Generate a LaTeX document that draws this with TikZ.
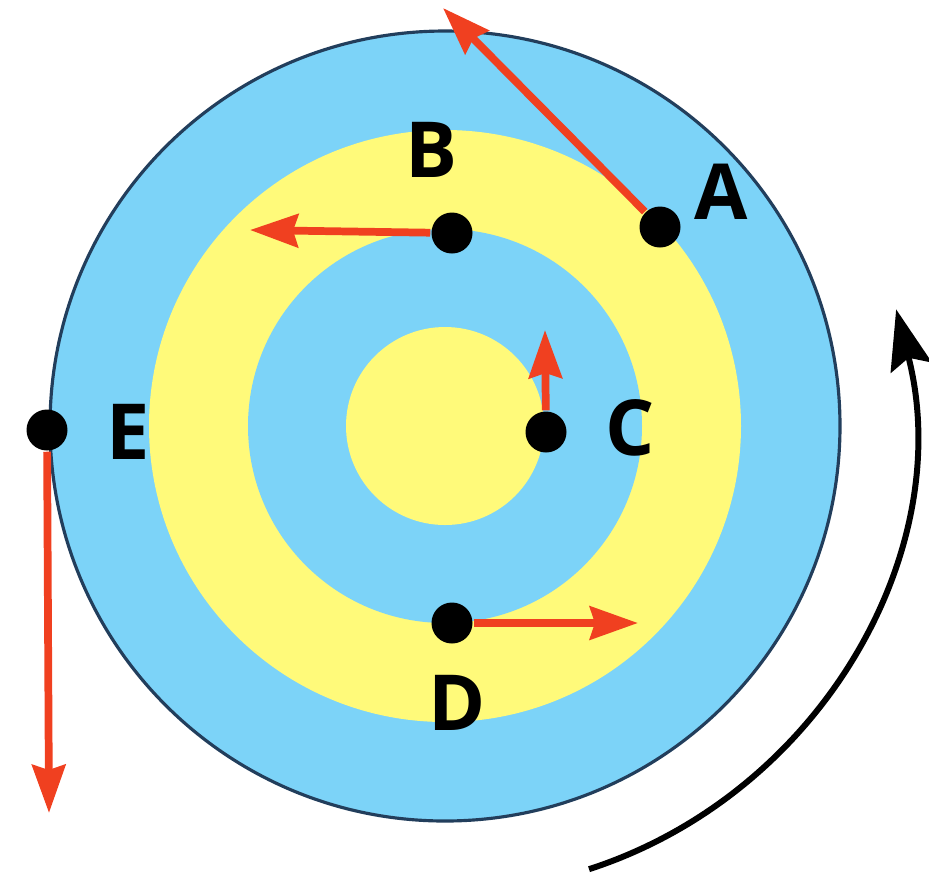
\documentclass[tikz,border=0pt]{standalone}
\usepackage{fontspec}
\setmainfont{Open Sans}
\usetikzlibrary{arrows.meta}
\definecolor{diskblue}{RGB}{124,211,248}
\definecolor{diskyellow}{RGB}{255,250,122}
\definecolor{velred}{RGB}{240,64,32}
\definecolor{rimline}{RGB}{34,62,92}

\begin{document}
\begin{tikzpicture}[line width=0.7pt,>=Stealth,
  dot/.style={circle,fill=black,inner sep=0pt,minimum size=4.1mm},
  lab/.style={inner sep=0pt,font=\fontsize{22}{26}\selectfont\bfseries},
  vel/.style={velred,line width=2.2pt,-{Stealth[length=4.8mm,width=3.3mm,inset=0.5mm]}}]
\useasboundingbox (0,0) rectangle (9.29,-8.82);
\def\Cx{4.45}\def\Cy{-4.26}
\coordinate (O) at (\Cx,\Cy);
% ---------- rings of the disc ----------
\foreach \r/\col in {3.95/diskblue,2.96/diskyellow,1.97/diskblue,0.99/diskyellow}{
  \fill[\col] (O) circle (\r);
}
\draw[rimline,line width=0.9pt] (O) circle (3.95);
% ---------- points on the disc ----------
\node[dot] (A) at (6.60,-2.27) {};
\node[dot] (B) at (4.52,-2.33) {};
\node[dot] (C) at (5.46,-4.32) {};
\node[dot] (D) at (4.52,-6.23) {};
\node[dot] (E) at (0.47,-4.30) {};
% ---------- letters ----------
\node[lab] (labA) at (7.21,-1.92) {A};
\node[lab] (labB) at (4.31,-1.50) {B};
\node[lab] (labC) at (6.30,-4.28) {C};
\node[lab] (labD) at (4.57,-7.03) {D};
\node[lab] (labE) at (1.28,-4.32) {E};
% ---------- velocity arrows, tangent, length ~ r ----------
\coordinate (tipA) at (4.43,-0.08);
\coordinate (tipB) at (2.50,-2.30);
\coordinate (tipC) at (5.45,-3.30);
\coordinate (tipD) at (6.38,-6.23);
\coordinate (tipE) at (0.49,-8.13);
\foreach \p in {A,B,C,D,E}{
  \draw[vel] (\p) -- (tip\p);
}
% ---------- sense of rotation ----------
\draw[line width=1.7pt,-{Stealth[length=6mm,width=4.2mm,inset=1mm]}]
  ([shift={(-72:4.66)}]O) arc[start angle=-72,end angle=14.5,radius=4.66];
\end{tikzpicture}
\end{document}
